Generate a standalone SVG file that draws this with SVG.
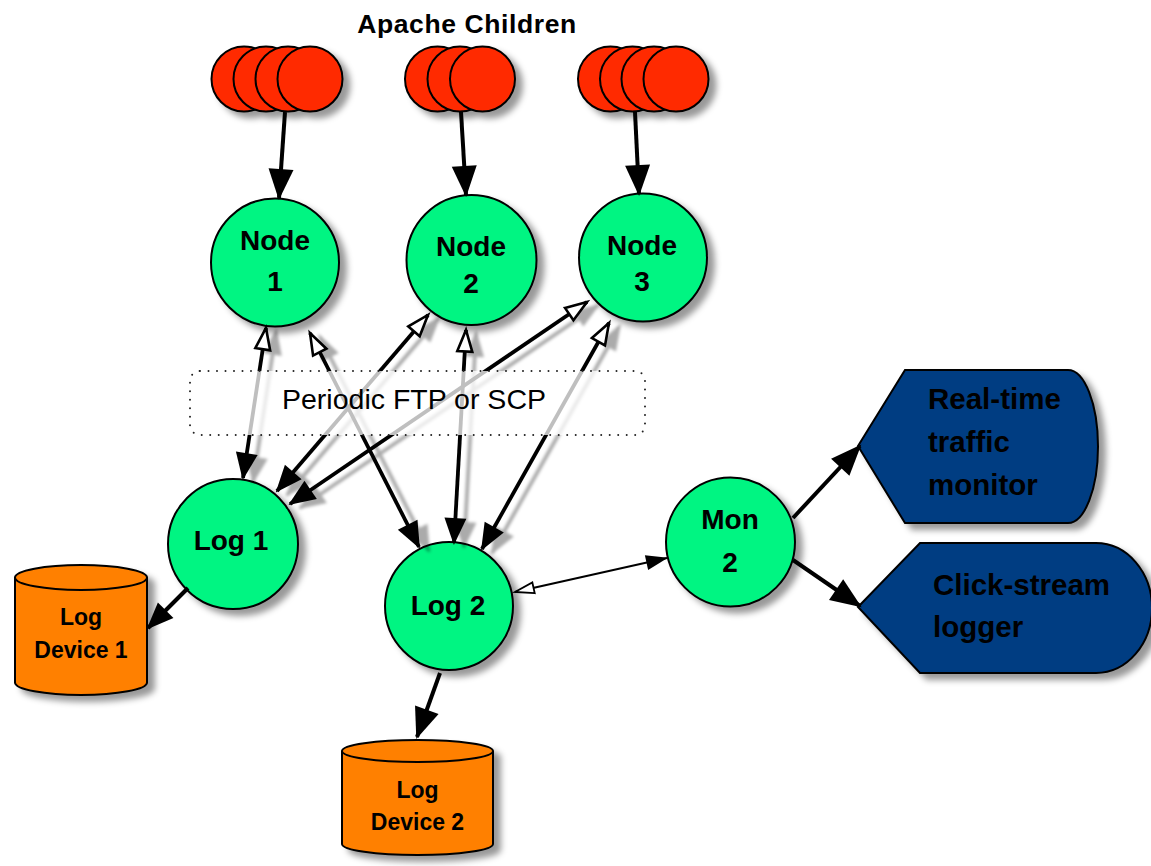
<svg xmlns="http://www.w3.org/2000/svg" width="1151" height="866" viewBox="0 0 1151 866">
  <style>
    .lbl { font-family: "Liberation Sans", Arial, Helvetica, sans-serif; font-weight: bold; fill: #000; }
    .big { font-size: 28px; }
    .wide { font-size: 29.5px; }
    .mid { font-size: 23px; }
    .ctr { text-anchor: middle; }
    .child { fill: #ff2b00; stroke: #000; stroke-width: 2; }
    .proc { fill: #00f582; stroke: #000; stroke-width: 2; }
    .disk { fill: #ff8000; stroke: #000; stroke-width: 2; }
    .disp { fill: #003c82; stroke: #000; stroke-width: 2; }
    .heavy { fill: none; stroke: #000; stroke-width: 4; }
    .feed { fill: none; stroke: #000; stroke-width: 3.8; marker-start: url(#openHead); marker-end: url(#solidHead); }
    .thin { fill: none; stroke: #000; stroke-width: 2; marker-start: url(#openSmall); marker-end: url(#solidSmall); }
  </style>
  <defs>
    <filter id="shade" x="-20%" y="-20%" width="150%" height="150%">
      <feDropShadow dx="7" dy="6" stdDeviation="3" flood-color="#000" flood-opacity="0.4"/>
    </filter>
    <filter id="lineShade" x="-20%" y="-20%" width="150%" height="150%">
      <feDropShadow dx="10" dy="4" stdDeviation="1.5" flood-color="#000" flood-opacity="0.33"/>
    </filter>
    <marker id="solidHead" markerUnits="userSpaceOnUse" markerWidth="40" markerHeight="40" refX="25" refY="11" orient="auto" overflow="visible">
      <path d="M0,0 L27,11 L0,22 Z" fill="#000"/>
    </marker>
    <marker id="bigHead" markerUnits="userSpaceOnUse" markerWidth="40" markerHeight="40" refX="29" refY="12.5" orient="auto" overflow="visible">
      <path d="M0,0 L31,12.5 L0,25 Z" fill="#000"/>
    </marker>
    <marker id="openHead" markerUnits="userSpaceOnUse" markerWidth="40" markerHeight="40" refX="23" refY="9" orient="auto-start-reverse" overflow="visible">
      <path d="M1.5,1.5 L23,9 L1.5,16.5 Z" fill="#fff" stroke="#000" stroke-width="2.6" stroke-linejoin="miter"/>
    </marker>
    <marker id="solidSmall" markerUnits="userSpaceOnUse" markerWidth="30" markerHeight="30" refX="21" refY="7.5" orient="auto" overflow="visible">
      <path d="M0,0 L22,7.5 L0,15 Z" fill="#000"/>
    </marker>
    <marker id="openSmall" markerUnits="userSpaceOnUse" markerWidth="30" markerHeight="30" refX="20" refY="6.5" orient="auto-start-reverse" overflow="visible">
      <path d="M1,1 L20,6.5 L1,12 Z" fill="#fff" stroke="#000" stroke-width="1.8"/>
    </marker>
  </defs>

  <rect width="1151" height="866" fill="#fff"/>

  <text class="lbl ctr" x="467" y="33" font-size="26.5" letter-spacing="0.6">Apache Children</text>

  <!-- worker process stacks -->
  <g id="children-1" filter="url(#shade)">
    <circle class="child" cx="244" cy="79" r="32.5"/>
    <circle class="child" cx="266" cy="79" r="32.5"/>
    <circle class="child" cx="288" cy="79" r="32.5"/>
    <circle class="child" cx="310" cy="79" r="32.5"/>
  </g>
  <g id="children-2" filter="url(#shade)">
    <circle class="child" cx="437.5" cy="79" r="32.5"/>
    <circle class="child" cx="460" cy="79" r="32.5"/>
    <circle class="child" cx="482.5" cy="79" r="32.5"/>
  </g>
  <g id="children-3" filter="url(#shade)">
    <circle class="child" cx="610.5" cy="79" r="32.5"/>
    <circle class="child" cx="632.5" cy="79" r="32.5"/>
    <circle class="child" cx="654" cy="79" r="32.5"/>
    <circle class="child" cx="676" cy="79" r="32.5"/>
  </g>

  <!-- web nodes -->
  <g id="node-1">
    <circle class="proc" cx="275" cy="262.5" r="64" filter="url(#shade)"/>
    <text class="lbl big ctr" x="275" y="250">Node</text>
    <text class="lbl big ctr" x="275" y="291">1</text>
  </g>
  <g id="node-2">
    <circle class="proc" cx="471.5" cy="260" r="65" filter="url(#shade)"/>
    <text class="lbl big ctr" x="471" y="256">Node</text>
    <text class="lbl big ctr" x="471" y="293">2</text>
  </g>
  <g id="node-3">
    <circle class="proc" cx="643" cy="257.5" r="64" filter="url(#shade)"/>
    <text class="lbl big ctr" x="642" y="255">Node</text>
    <text class="lbl big ctr" x="642" y="291">3</text>
  </g>

  <!-- log collectors -->
  <g id="log-1">
    <circle class="proc" cx="233" cy="544" r="65" filter="url(#shade)"/>
    <text class="lbl big ctr" x="231" y="550">Log 1</text>
  </g>
  <g id="log-2">
    <circle class="proc" cx="449" cy="606" r="64" filter="url(#shade)"/>
    <text class="lbl big ctr" x="448" y="615">Log 2</text>
  </g>
  <g id="mon-2">
    <circle class="proc" cx="730.5" cy="542" r="64.5" filter="url(#shade)"/>
    <text class="lbl big ctr" x="730" y="529">Mon</text>
    <text class="lbl big ctr" x="730" y="572">2</text>
  </g>

  <!-- storage -->
  <g id="log-device-1">
    <path class="disk" filter="url(#shade)" d="M15,577.5 A66,12.5 0 0 1 147,577.5 L147,682.5 A66,12.5 0 0 1 15,682.5 Z"/>
    <path d="M15,577.5 A66,12.5 0 0 0 147,577.5" fill="none" stroke="#000" stroke-width="2"/>
    <text class="lbl mid ctr" x="81" y="625">Log</text>
    <text class="lbl mid ctr" x="81" y="658">Device 1</text>
  </g>
  <g id="log-device-2">
    <path class="disk" filter="url(#shade)" d="M342,751 A75.5,11 0 0 1 493,751 L493,844 A75.5,11 0 0 1 342,844 Z"/>
    <path d="M342,751 A75.5,11 0 0 0 493,751" fill="none" stroke="#000" stroke-width="2"/>
    <text class="lbl mid ctr" x="417.5" y="798">Log</text>
    <text class="lbl mid ctr" x="417.5" y="830">Device 2</text>
  </g>

  <!-- consumers -->
  <g id="traffic-monitor">
    <path class="disp" filter="url(#shade)" d="M858,446 L905,370 L1068,370 A30,76.5 0 0 1 1068,523 L905,523 Z"/>
    <text class="lbl wide" x="928" y="409">Real-time</text>
    <text class="lbl wide" x="928" y="452">traffic</text>
    <text class="lbl wide" x="928" y="495">monitor</text>
  </g>
  <g id="click-stream-logger">
    <path class="disp" filter="url(#shade)" d="M858,607 L920,543 L1096,543 A56,65 0 0 1 1096,673 L920,673 Z"/>
    <text class="lbl wide" x="933" y="595">Click-stream</text>
    <text class="lbl wide" x="933" y="637">logger</text>
  </g>

  <!-- connectors -->
  <g id="connectors">
    <line class="heavy" x1="285" y1="112" x2="279" y2="198" marker-end="url(#bigHead)"/>
    <line class="heavy" x1="461" y1="112" x2="466" y2="195" marker-end="url(#bigHead)"/>
    <line class="heavy" x1="635" y1="112" x2="639" y2="194" marker-end="url(#bigHead)"/>

    <g id="transfers" filter="url(#lineShade)">
      <line class="feed" x1="266" y1="328" x2="243" y2="478"/>
      <line class="feed" x1="310" y1="333" x2="419" y2="547"/>
      <line class="feed" x1="428" y1="315" x2="277" y2="491"/>
      <line class="feed" x1="466" y1="330" x2="454" y2="543"/>
      <line class="feed" x1="587" y1="302" x2="290" y2="504"/>
      <line class="feed" x1="609" y1="323" x2="482" y2="549"/>
    </g>

    <line class="thin" x1="515" y1="592" x2="667" y2="558"/>

    <line class="heavy" x1="188" y1="588" x2="148" y2="628" marker-end="url(#solidHead)"/>
    <line class="heavy" x1="440" y1="673" x2="417" y2="737" marker-end="url(#bigHead)"/>
    <line class="heavy" stroke-width="3.4" x1="793" y1="518" x2="860" y2="446" marker-end="url(#bigHead)"/>
    <line class="heavy" stroke-width="3.4" x1="793" y1="560" x2="860" y2="606" marker-end="url(#bigHead)"/>
  </g>

  <!-- transfer label -->
  <g id="transfer-label">
    <rect x="190" y="371" width="455" height="64" rx="10" fill="#fff" fill-opacity="0.75" stroke="#222" stroke-width="2" stroke-dasharray="0 8.5" stroke-linecap="round"/>
    <text x="414" y="409" font-family="'Liberation Sans', Arial, Helvetica, sans-serif" font-size="28.5" text-anchor="middle" fill="#000">Periodic FTP or SCP</text>
  </g>
</svg>
